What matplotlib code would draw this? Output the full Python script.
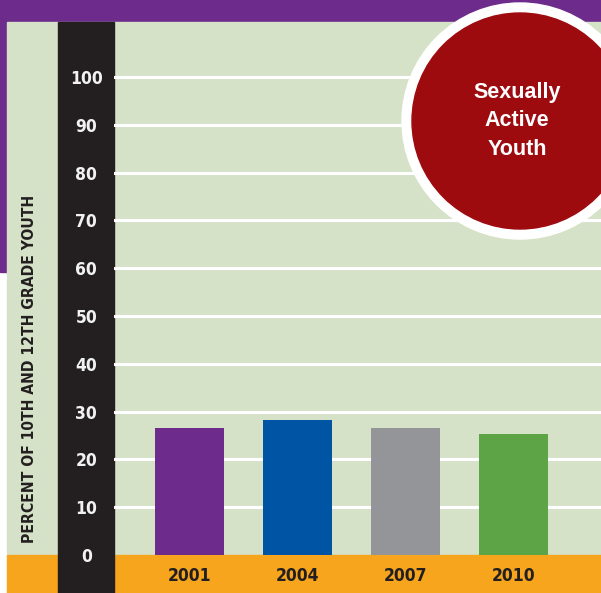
import matplotlib
matplotlib.use('Agg')
import matplotlib.pyplot as plt
from matplotlib import font_manager
from matplotlib.patches import Rectangle, Circle

years = ['2001', '2004', '2007', '2010']
pct = [26.6, 28.2, 26.6, 25.3]
bar_colors = ['#6d2b8b', '#0054a4', '#939598', '#5da446']
yticks = [0, 10, 20, 30, 40, 50, 60, 70, 80, 90, 100]
ylabel_str = 'PERCENT OF 10TH AND 12TH GRADE YOUTH'
badge_str = 'Sexually\nActive\nYouth'

# look for a condensed bold face, else plain bold
cond_file = None
for key in ['LiberationSansNarrow-Bold', 'DejaVuSansCondensed-Bold']:
    for f in font_manager.fontManager.ttflist:
        if key in f.fname:
            cond_file = f.fname
            break
    if cond_file:
        break

def cfont(size):
    if cond_file:
        return font_manager.FontProperties(fname=cond_file, size=size)
    return font_manager.FontProperties(family='Liberation Sans', weight='bold', size=size)

W, H = 601, 593
fig = plt.figure(figsize=(W/100, H/100), dpi=100)
fig.patch.set_facecolor('white')

# background pieces, pixel coords
bg = fig.add_axes([0, 0, 1, 1], zorder=0)
bg.set_xlim(0, W)
bg.set_ylim(H, 0)
bg.axis('off')
bg.add_patch(Rectangle((0, 0), W, 22, color='#6d2b8b'))
bg.add_patch(Rectangle((0, 0), 7, 272, color='#6d2b8b'))
bg.add_patch(Rectangle((7, 22), W-7, 533, color='#d5e2c8'))
bg.add_patch(Rectangle((7, 555), W-7, 38, color='#f7a51c'))
bg.add_patch(Rectangle((58, 22), 56, H-22, color='#231f20'))
ylab = bg.text(30, 369, ylabel_str, rotation=90, ha='center', va='center',
               fontproperties=cfont(13.5), color='#231f20')

# bar chart
px_per = (555 - 77) / 100.0
ax = fig.add_axes([114/W, (H-555)/H, (W-114)/W, (555-22)/H], zorder=1)
ax.patch.set_alpha(0)
ax.set_ylim(0, 533/px_per)
ax.set_xlim(-(189.5-114)/108, (W-189.5)/108)
for t in yticks[1:]:
    ax.axhline(t, color='white', lw=2.2, zorder=1)
ax.bar(range(len(years)), pct, width=69/108, color=bar_colors, zorder=2)
ax.set_yticks(yticks)
ax.set_yticklabels([str(t) for t in yticks], fontproperties=cfont(12.5), color='#f2f2f2')
for lbl in ax.get_yticklabels():
    lbl.set_ha('center')
ax.set_xticks(range(len(years)))
ax.set_xticklabels(years, fontproperties=cfont(12.5), color='#231f20')
ax.tick_params(axis='y', length=0, pad=20)
ax.tick_params(axis='x', length=0, pad=8.5)
for s in ax.spines.values():
    s.set_visible(False)

# badge
ov = fig.add_axes([0, 0, 1, 1], zorder=2)
ov.set_xlim(0, W)
ov.set_ylim(H, 0)
ov.axis('off')
ov.add_patch(Circle((520, 121), 118, color='white'))
ov.add_patch(Circle((520, 121), 108, color='#9e0b0f'))
ov.text(517, 121, badge_str, ha='center', va='center', fontsize=15.5,
        fontweight='bold', family='Liberation Sans', color='white', linespacing=1.47)

# fit the axis title to the height it has in the original (about 348 px)
r = fig.canvas.get_renderer()
h = ylab.get_window_extent(r).height
ylab.set_fontsize(13.5 * 348.0 / h)

fig.savefig('out.png', dpi=100)
